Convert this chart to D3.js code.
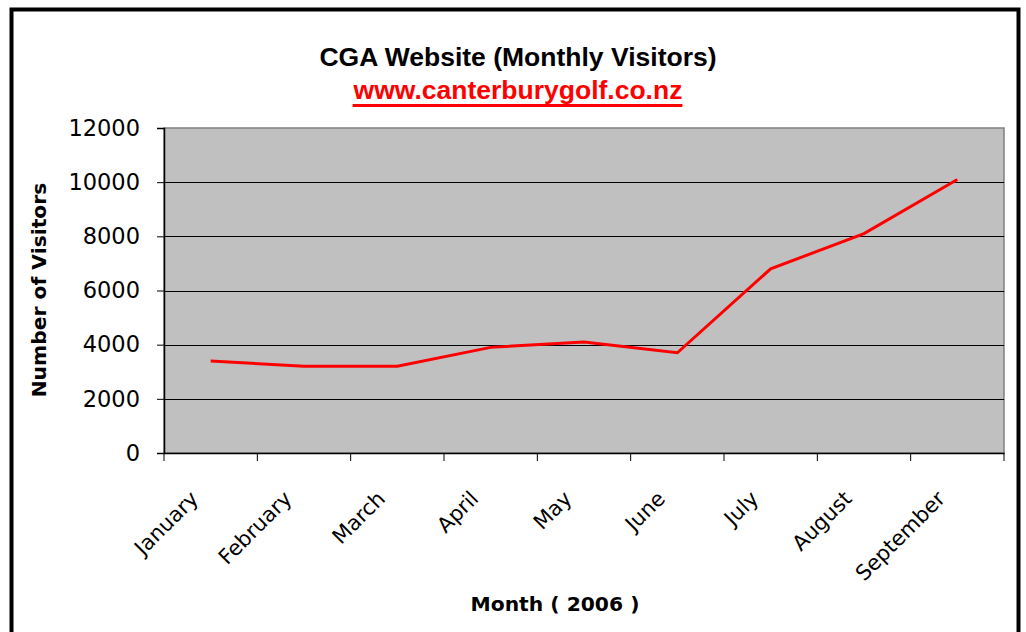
<!DOCTYPE html>
<html>
<head>
<meta charset="utf-8">
<script src="https://cdn.jsdelivr.net/npm/d3@7"></script>
<style>
  body { margin: 0; background: #fff; }
  svg { display: block; }
</style>
</head>
<body>
<div id="chart"></div>
<script>
const months = ['January', 'February', 'March', 'April', 'May', 'June', 'July', 'August', 'September'];
const visitors = [3400, 3200, 3200, 3900, 4100, 3700, 6800, 8100, 10100];
const yTicks = [0, 2000, 4000, 6000, 8000, 10000, 12000];

const width = 1026, height = 632;
const margin = { top: 128, right: 22, bottom: 179, left: 164 };
const W = width - margin.left - margin.right;
const H = height - margin.top - margin.bottom;
const axisFont = "'DejaVu Sans', sans-serif";

const svg = d3.select('#chart').append('svg')
  .attr('width', width).attr('height', height);

// outer frame
svg.append('rect').attr('x', 11.5).attr('y', 9.5)
  .attr('width', 1007).attr('height', 640)
  .attr('fill', '#fff').attr('stroke', '#000').attr('stroke-width', 4);

// titles
svg.append('text').attr('x', 518).attr('y', 66)
  .attr('text-anchor', 'middle').attr('font-family', "'Liberation Sans', Arial, sans-serif")
  .attr('font-weight', 'bold').attr('font-size', '26.5px').attr('fill', '#000')
  .text('CGA Website (Monthly Visitors)');
const sub = svg.append('text').attr('x', 518).attr('y', 99)
  .attr('text-anchor', 'middle').attr('font-family', "'Liberation Sans', Arial, sans-serif")
  .attr('font-weight', 'bold').attr('font-size', '26.5px').attr('fill', '#ff0000')
  .text('www.canterburygolf.co.nz');
// underline drawn as a line so it gets the thicker weight of the original
const sb = sub.node().getBBox();
svg.append('line').attr('x1', sb.x).attr('x2', sb.x + sb.width)
  .attr('y1', 105.5).attr('y2', 105.5)
  .attr('stroke', '#ff0000').attr('stroke-width', 3);

const g = svg.append('g').attr('transform', `translate(${margin.left},${margin.top})`);

const x = d3.scaleBand().domain(months).range([0, W]);
const y = d3.scaleLinear().domain([0, 12000]).range([H, 0]);

// plot area
g.append('rect').attr('width', W).attr('height', H)
  .attr('fill', '#c0c0c0').attr('stroke', '#808080').attr('stroke-width', 1.5);

// gridlines
g.selectAll('.grid').data(yTicks.filter(d => d > 0 && d < 12000)).join('line')
  .attr('x1', 0).attr('x2', W)
  .attr('y1', d => Math.round(y(d)) + 0.5).attr('y2', d => Math.round(y(d)) + 0.5)
  .attr('stroke', '#000').attr('stroke-width', 1);

// y axis
const yAxis = g.append('g')
  .call(d3.axisLeft(y).tickValues(yTicks).tickSize(7).tickPadding(17).tickFormat(d => d));
yAxis.select('.domain').attr('stroke', '#000').attr('stroke-width', 1.5);
yAxis.selectAll('text').attr('font-family', axisFont).attr('font-size', '22.5px').attr('fill', '#000');

// x axis
const xAxis = g.append('g').attr('transform', `translate(0,${H})`)
  .call(d3.axisBottom(x).tickSize(0).tickFormat(''));
xAxis.select('.domain').attr('stroke', '#000').attr('stroke-width', 1.5);
xAxis.selectAll('.edge').data(d3.range(months.length + 1)).join('line')
  .attr('class', 'edge')
  .attr('x1', i => i * x.step()).attr('x2', i => i * x.step())
  .attr('y1', 0).attr('y2', 8).attr('stroke', '#000');
xAxis.selectAll('.lbl').data(months).join('text')
  .attr('class', 'lbl')
  .attr('transform', d => `translate(${x(d) + x.bandwidth() / 2 - 11},${47}) rotate(-45)`)
  .attr('text-anchor', 'end')
  .attr('font-family', axisFont).attr('font-size', '21px').attr('fill', '#000')
  .text(d => d);

// line
const line = d3.line()
  .x((d, i) => x(months[i]) + x.bandwidth() / 2)
  .y(d => y(d));
g.append('path').datum(visitors)
  .attr('d', line).attr('fill', 'none')
  .attr('stroke', '#ff0000').attr('stroke-width', 3);

// axis titles
svg.append('text')
  .attr('transform', 'translate(46,290) rotate(-90)')
  .attr('text-anchor', 'middle').attr('font-family', axisFont)
  .attr('font-weight', 'bold').attr('font-size', '20.3px').attr('fill', '#000')
  .text('Number of Visitors');
svg.append('text').attr('x', 555).attr('y', 611)
  .attr('text-anchor', 'middle').attr('font-family', axisFont)
  .attr('font-weight', 'bold').attr('font-size', '20.3px').attr('fill', '#000')
  .text('Month ( 2006 )');
</script>
</body>
</html>
